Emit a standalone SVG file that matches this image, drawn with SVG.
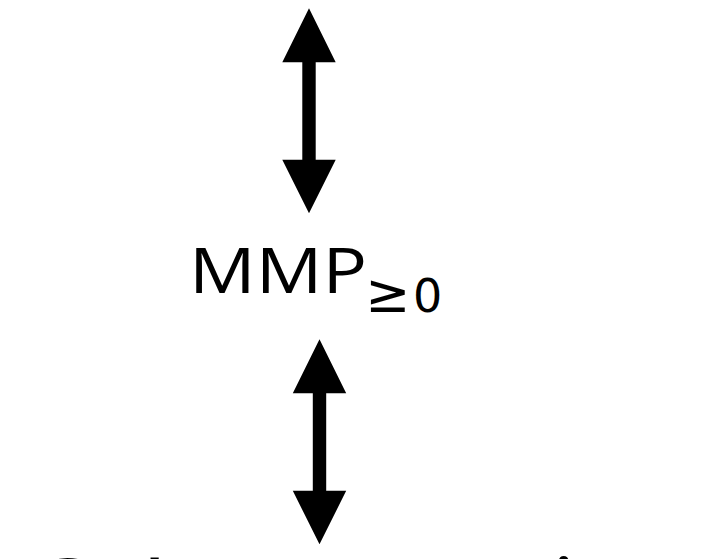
<svg xmlns="http://www.w3.org/2000/svg" width="713" height="559" viewBox="0 0 713 559">
  <style>
    .label { font-family: "Open Sans", "Lato", "Liberation Sans", sans-serif; fill: #000; }
    .sub { font-family: "DejaVu Sans", "Liberation Sans", sans-serif; fill: #000; }
    .arrow { fill: #000; stroke: none; }
  </style>
  <defs>
    <!-- double-headed block arrow, 205 px long, tip at origin -->
    <path id="dblArrow" d="M0,0 L26.7,54 L6.7,54 L6.7,151.5 L26.7,151.5 L0,205 L-26.7,151.5 L-6.7,151.5 L-6.7,54 L-26.7,54 Z"/>
  </defs>

  <rect x="0" y="0" width="713" height="559" fill="#fff"/>

  <g id="connectors">
    <use href="#dblArrow" class="arrow" transform="translate(309,8.3)"/>
    <use href="#dblArrow" class="arrow" transform="translate(319.5,339.3)"/>
  </g>

  <g id="node-mmp">
    <text class="label" x="189" y="293.3" font-size="63" textLength="178" lengthAdjust="spacingAndGlyphs">MMP</text>
    <text class="sub" x="365" y="311.5" font-size="54">≥</text>
    <text class="sub" x="413" y="311.5" font-size="46">0</text>
  </g>

  <g id="node-bottom">
    <text class="label" font-size="100" x="27 100 142 165 228 320 385 435 551 580 622" y="631 635 633.5 635 635 635 635 635 630 635 635">Column-wise</text>
  </g>
</svg>
